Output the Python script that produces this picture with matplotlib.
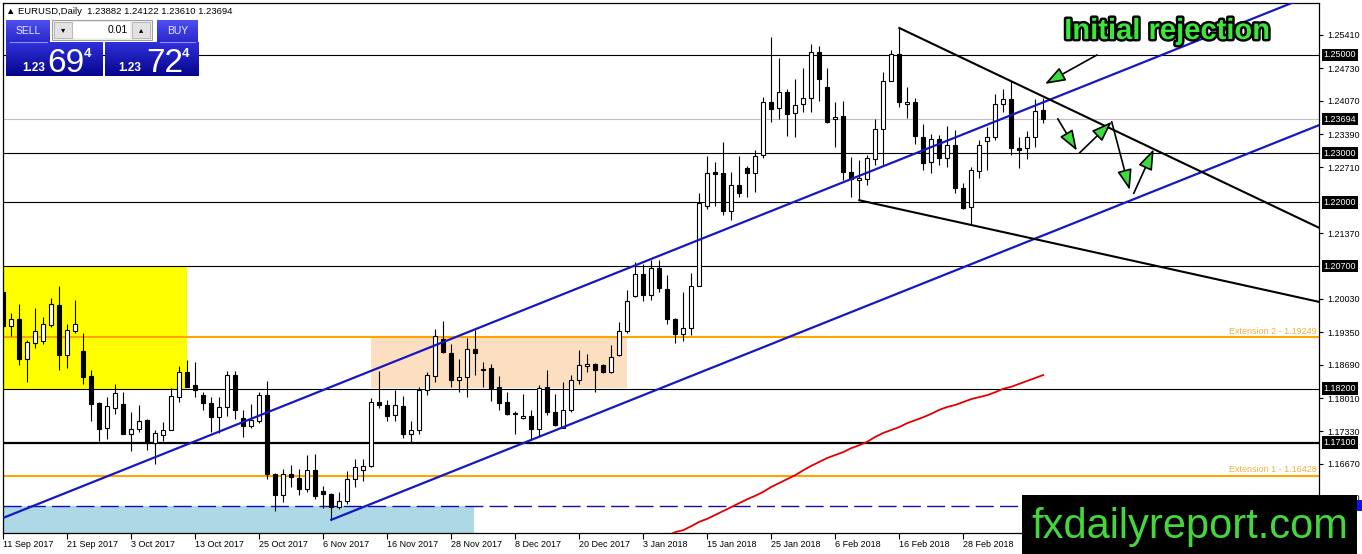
import numpy as np
import matplotlib
matplotlib.use("Agg")
import matplotlib.pyplot as plt
from matplotlib.patches import Rectangle
from matplotlib.transforms import blended_transform_factory
from matplotlib.colors import LinearSegmentedColormap
import matplotlib.patheffects as pe
from matplotlib import font_manager

W, H = 1362, 554

# ---------------- data ----------------
opens = [1.2017, 1.1948, 1.1963, 1.1881, 1.1914, 1.1917, 1.1950, 1.1990, 1.1889, 1.1937,
         1.1896, 1.1845, 1.1790, 1.1740, 1.1781, 1.1789, 1.1728, 1.1738, 1.1757, 1.1709,
         1.1726, 1.1736, 1.1803, 1.1855, 1.1827, 1.1808, 1.1791, 1.1762, 1.1782, 1.1849,
         1.1761, 1.1745, 1.1755, 1.1807, 1.1646, 1.1603, 1.1646, 1.1639, 1.1616, 1.1654,
         1.1612, 1.1605, 1.1580, 1.1592, 1.1636, 1.1654, 1.1662, 1.1794, 1.1787, 1.1767,
         1.1784, 1.1728, 1.1735, 1.1818, 1.1846, 1.1922, 1.1893, 1.1838, 1.1844, 1.1900,
         1.1861, 1.1863, 1.1823, 1.1792, 1.1771, 1.1761, 1.1765, 1.1738, 1.1823, 1.1773,
         1.1741, 1.1777, 1.1837, 1.1867, 1.1871, 1.1869, 1.1855, 1.1888, 1.1937, 1.2008,
         1.2054, 1.2012, 1.2065, 1.2024, 1.1963, 1.1932, 1.1944, 1.2029, 1.2193, 1.2261,
         1.2259, 1.2182, 1.2236, 1.2270, 1.2259, 1.2296, 1.2405, 1.2391, 1.2424, 1.2381,
         1.2400, 1.2412, 1.2507, 1.2434, 1.2369, 1.2375, 1.2262, 1.2245, 1.2248, 1.2288,
         1.2350, 1.2448, 1.2503, 1.2401, 1.2405, 1.2333, 1.2281, 1.2328, 1.2290, 1.2316,
         1.2230, 1.2190, 1.2264, 1.2324, 1.2333, 1.2401, 1.2410, 1.2311, 1.2310, 1.2332,
         1.23882]
highs = [1.2024, 1.1975, 1.1992, 1.1920, 1.1985, 1.1967, 1.2004, 1.2029, 1.1951, 1.2001,
         1.1934, 1.1859, 1.1792, 1.1803, 1.1830, 1.1813, 1.1772, 1.1786, 1.1759, 1.1736,
         1.1753, 1.1822, 1.1867, 1.1878, 1.1874, 1.1813, 1.1803, 1.1803, 1.1856, 1.1856,
         1.1776, 1.1789, 1.1814, 1.1835, 1.1648, 1.1656, 1.1665, 1.1656, 1.1684, 1.1687,
         1.1622, 1.1607, 1.1609, 1.1653, 1.1677, 1.1677, 1.1801, 1.1856, 1.1798, 1.1818,
         1.1806, 1.1755, 1.1823, 1.1854, 1.1942, 1.1959, 1.1912, 1.1880, 1.1924, 1.1939,
         1.1874, 1.1871, 1.1846, 1.1813, 1.1774, 1.1810, 1.1777, 1.1827, 1.1859, 1.1810,
         1.1833, 1.1847, 1.1899, 1.1890, 1.1872, 1.1870, 1.1909, 1.1957, 1.2022, 1.2078,
         1.2075, 1.2082, 1.2082, 1.2051, 1.1965, 1.2017, 1.2056, 1.2218, 1.2294, 1.2281,
         1.2322, 1.2262, 1.2294, 1.2273, 1.2306, 1.2415, 1.2536, 1.2493, 1.2431, 1.2452,
         1.2473, 1.2522, 1.2518, 1.2473, 1.2405, 1.2406, 1.2293, 1.2286, 1.2296, 1.2369,
         1.2466, 1.2510, 1.2555, 1.2435, 1.2413, 1.2359, 1.2340, 1.2337, 1.2355, 1.2347,
         1.2239, 1.2272, 1.2327, 1.2354, 1.2420, 1.2431, 1.2446, 1.2333, 1.2345, 1.2410,
         1.24122]
lows = [1.1944, 1.1927, 1.1869, 1.1833, 1.1903, 1.1912, 1.1946, 1.1859, 1.1862, 1.1933,
        1.1830, 1.1754, 1.1713, 1.1718, 1.1769, 1.1727, 1.1693, 1.1731, 1.1695, 1.1667,
        1.1714, 1.1735, 1.1793, 1.1823, 1.1803, 1.1776, 1.1731, 1.1730, 1.1765, 1.1759,
        1.1721, 1.1740, 1.1750, 1.1637, 1.1570, 1.1590, 1.1620, 1.1603, 1.1609, 1.1595,
        1.1578, 1.1553, 1.1575, 1.1586, 1.1619, 1.1633, 1.1660, 1.1781, 1.1754, 1.1754,
        1.1720, 1.1711, 1.1728, 1.1808, 1.1833, 1.1893, 1.1823, 1.1813, 1.1804, 1.1847,
        1.1824, 1.1796, 1.1777, 1.1767, 1.1728, 1.1759, 1.1716, 1.1724, 1.1767, 1.1745,
        1.1740, 1.1772, 1.1830, 1.1854, 1.1813, 1.1853, 1.1853, 1.1886, 1.1933, 1.2007,
        1.1999, 1.2001, 1.2017, 1.1951, 1.1913, 1.1918, 1.1929, 1.2029, 1.2186, 1.2193,
        1.2173, 1.2163, 1.2211, 1.2211, 1.2221, 1.2291, 1.2363, 1.2369, 1.2335, 1.2333,
        1.2384, 1.2384, 1.2407, 1.2362, 1.2313, 1.2245, 1.2211, 1.2204, 1.2235, 1.2276,
        1.2276, 1.2447, 1.2393, 1.2371, 1.2318, 1.2265, 1.2259, 1.2276, 1.2272, 1.2218,
        1.2187, 1.2153, 1.2250, 1.2265, 1.2327, 1.2383, 1.2297, 1.2270, 1.2289, 1.2313,
        1.23610]
closes = [1.1947, 1.1963, 1.1881, 1.1916, 1.1937, 1.1951, 1.1992, 1.1888, 1.1939, 1.1952,
          1.1844, 1.1789, 1.1739, 1.1784, 1.1812, 1.1728, 1.1738, 1.1755, 1.1709, 1.1730,
          1.1736, 1.1806, 1.1855, 1.1824, 1.1818, 1.1791, 1.1762, 1.1782, 1.1849, 1.1777,
          1.1744, 1.1756, 1.1807, 1.1646, 1.1603, 1.1646, 1.1641, 1.1616, 1.1654, 1.1601,
          1.1605, 1.1580, 1.1592, 1.1636, 1.1661, 1.1663, 1.1793, 1.1786, 1.1765, 1.1787,
          1.1728, 1.1735, 1.1818, 1.1847, 1.1927, 1.1895, 1.1838, 1.1844, 1.1900, 1.1893,
          1.1858, 1.1822, 1.1790, 1.1769, 1.1769, 1.1765, 1.1738, 1.1822, 1.1772, 1.1746,
          1.1777, 1.1837, 1.1868, 1.1871, 1.1859, 1.1855, 1.1885, 1.1937, 1.1999, 1.2054,
          1.2012, 1.2065, 1.2026, 1.1963, 1.1932, 1.1944, 1.2029, 1.2199, 1.2260, 1.2258,
          1.2182, 1.2236, 1.2218, 1.2259, 1.2295, 1.2405, 1.2390, 1.2425, 1.2380, 1.2399,
          1.2412, 1.2507, 1.2452, 1.2364, 1.2374, 1.2262, 1.2247, 1.2250, 1.2290, 1.2350,
          1.2448, 1.2502, 1.2405, 1.2405, 1.2335, 1.2280, 1.2328, 1.2290, 1.2316, 1.2229,
          1.2188, 1.2265, 1.2316, 1.2332, 1.2401, 1.2410, 1.2310, 1.2306, 1.2332, 1.2386,
          1.23694]

date_labels = ["11 Sep 2017", "21 Sep 2017", "3 Oct 2017", "13 Oct 2017", "25 Oct 2017",
               "6 Nov 2017", "16 Nov 2017", "28 Nov 2017", "8 Dec 2017", "20 Dec 2017",
               "3 Jan 2018", "15 Jan 2018", "25 Jan 2018", "6 Feb 2018", "16 Feb 2018",
               "28 Feb 2018"]
bars_per_label = 8

price_ticks = [1.25410, 1.24730, 1.24070, 1.23390, 1.22710, 1.21370, 1.20030,
               1.19350, 1.18690, 1.18010, 1.17330, 1.16670, 1.15990]

thin_levels = [1.25000, 1.23000, 1.22000, 1.20700, 1.18200]
thick_levels = [1.17100]
boxed_levels = [1.25000, 1.23000, 1.22000, 1.20700, 1.18200, 1.17100]
bid_price = 1.23694
dash_level = 1.15811

ext_levels = [1.19249, 1.16428]
ext_labels = ["Extension 2 - 1.19249", "Extension 1 - 1.16428"]

ma_first_bar = 83
ma_values = [1.1520, 1.1528, 1.1532, 1.1540, 1.1549, 1.1555, 1.1563, 1.1571, 1.1579, 1.1587,
             1.1595, 1.1602, 1.1610, 1.1620, 1.1628, 1.1636, 1.1644, 1.1654, 1.1663, 1.1671,
             1.1679, 1.1685, 1.1691, 1.1699, 1.1705, 1.1712, 1.1722, 1.1730, 1.1736, 1.1742,
             1.1750, 1.1756, 1.1762, 1.1769, 1.1777, 1.1783, 1.1787, 1.1793, 1.1799, 1.1803,
             1.1807, 1.1813, 1.1820, 1.1824, 1.1830, 1.1836, 1.1842, 1.1848]

# trend lines: (bar, price) anchors
chan_up_bars, chan_up_prices = [0, 160], [1.1557, 1.2599]
chan_lo_bars, chan_lo_prices = [41, 164.46], [1.1553, 1.2357]
res_bars, res_prices = [112, 164.46], [1.2555, 1.2148]
sup_bars, sup_prices = [107, 164.46], [1.2204, 1.1997]

# zones: bar range and price range
yellow_bars, yellow_prices = [-1, 22.96], [1.1820, 1.2070]
peach_bars, peach_prices = [45.96, 77.96], [1.1822, 1.19249]
blue_bars, blue_prices = [-1, 58.84], [1.1500, 1.15811]

# projected path arrows
arrow_x0 = [136.7, 131.8, 134.5, 138.55, 141.3]
arrow_y0 = [1.2500, 1.2370, 1.2300, 1.2364, 1.2218]
arrow_x1 = [130.2, 134.2, 138.55, 140.8, 143.8]
arrow_y1 = [1.2441, 1.2305, 1.2364, 1.2225, 1.2308]

header = "\u25b2 EURUSD,Daily  1.23882 1.24122 1.23610 1.23694"
sell_big, buy_big = "69", "72"

# ---------------- fonts ----------------
names = {f.name for f in font_manager.fontManager.ttflist}
NARROW = "Liberation Sans Narrow" in names
plt.rcParams["font.family"] = ["Liberation Sans", "DejaVu Sans"]

fig = plt.figure(figsize=(W / 100, H / 100), dpi=100)
fig.patch.set_facecolor("white")
ax = fig.add_axes([3 / W, 1 - 533 / H, (1319 - 3) / W, (533 - 3) / H])
ax.set_xlim(-0.04, 164.46)
ax.set_ylim(1.15261, 1.26059)
ax.set_facecolor("white")
for s in ax.spines.values():
    s.set_color("black")
    s.set_linewidth(0.9)

# zones
ax.add_patch(Rectangle((yellow_bars[0], yellow_prices[0]), yellow_bars[1] - yellow_bars[0],
                       yellow_prices[1] - yellow_prices[0], fc="#ffff00", ec="none", zorder=0.5))
ax.add_patch(Rectangle((peach_bars[0], peach_prices[0]), peach_bars[1] - peach_bars[0],
                       peach_prices[1] - peach_prices[0], fc="#fbdfc0", ec="none", zorder=0.5))
ax.add_patch(Rectangle((blue_bars[0], blue_prices[0]), blue_bars[1] - blue_bars[0],
                       blue_prices[1] - blue_prices[0], fc="#add8e6", ec="none", zorder=0.5))

# horizontal levels
for lv in thin_levels:
    ax.axhline(lv, color="black", lw=0.8, zorder=2)
for lv in thick_levels:
    ax.axhline(lv, color="black", lw=1.6, zorder=2)
ax.axhline(bid_price, color="#c0c0c0", lw=0.8, zorder=2)
ax.axhline(dash_level, color="#1010a8", lw=1.0, dashes=(13, 4.5), zorder=2)
for lv, lab in zip(ext_levels, ext_labels):
    ax.axhline(lv, color="#ffa500", lw=1.5, zorder=2)
    ax.text(164.2, lv + 0.0003, lab, ha="right", va="bottom", color="#f0b040",
            fontsize=6.5, zorder=2)

# candles
x = np.arange(len(opens))
o, h, l, c = map(np.array, (opens, highs, lows, closes))
up = c >= o
ax.vlines(x, l, h, color="black", lw=0.8, zorder=3)
bottom = np.minimum(o, c)
height = np.maximum(np.abs(c - o), 0.00003)
ax.bar(x, height, bottom=bottom, width=0.5, color=np.where(up, "white", "black"),
       edgecolor="black", linewidth=0.8, zorder=4)

# moving average
ma_x = np.arange(ma_first_bar, ma_first_bar + len(ma_values))
ax.plot(ma_x, ma_values, color="#e00000", lw=1.3, zorder=5)

# channel lines (extended)
def extend(bx, py, x0=-2, x1=170):
    s = (py[1] - py[0]) / (bx[1] - bx[0])
    return [x0, x1], [py[0] + s * (x0 - bx[0]), py[0] + s * (x1 - bx[0])]

ex, ey = extend(chan_up_bars, chan_up_prices)
ax.plot(ex, ey, color="#1818c0", lw=1.6, zorder=6)
ax.plot(chan_lo_bars, chan_lo_prices, color="#1818c0", lw=1.6, zorder=6)
ax.plot(res_bars, res_prices, color="black", lw=1.5, zorder=6)
ax.plot(sup_bars, sup_prices, color="black", lw=1.5, zorder=6)

# arrows
for x0, y0, x1, y1 in zip(arrow_x0, arrow_y0, arrow_x1, arrow_y1):
    ax.annotate("", xy=(x1, y1), xytext=(x0, y0),
                arrowprops=dict(arrowstyle="-|>,head_length=1.25,head_width=0.45",
                                fc="#3cdc3c", ec="black", lw=1.2,
                                shrinkA=0, shrinkB=0), zorder=7)

# axes ticks
ax.set_xticks(np.arange(len(date_labels)) * bars_per_label)
ax.set_xticklabels(date_labels)
for t in ax.get_xticklabels():
    t.set_horizontalalignment("left")
ax.yaxis.tick_right()
ax.set_yticks(price_ticks)
ax.set_yticklabels([f"{t:.5f}" for t in price_ticks])
ax.tick_params(axis="x", length=4, width=0.8, pad=1, labelsize=6.5)
ax.tick_params(axis="y", length=3, width=0.8, pad=3, labelsize=6.5)

# right-side price boxes
tr = blended_transform_factory(ax.transAxes, ax.transData)
xb = 1.0 + 4.5 / 1316
for lv in boxed_levels + [bid_price]:
    ax.text(xb, lv, f"{lv:.5f}", transform=tr, ha="left", va="center", color="white",
            fontsize=6.5, clip_on=False, zorder=8,
            bbox=dict(boxstyle="square,pad=0.2", fc="black", ec="none"))

# ---------------- figure-level overlays ----------------
def fx(px):
    return px / W

def fy(py):
    return 1 - py / H

fig.text(fx(6), fy(12), header, fontsize=6.8, va="center", ha="left",
         family=["Liberation Sans", "DejaVu Sans"], color="black")

def grad_box(x0, y0, x1, y1, ctop, cbot):
    a = fig.add_axes([fx(x0), fy(y1), (x1 - x0) / W, (y1 - y0) / H])
    cmap = LinearSegmentedColormap.from_list("g", [ctop, cbot])
    a.imshow(np.linspace(0, 1, 64).reshape(-1, 1), aspect="auto", cmap=cmap,
             origin="upper", extent=[0, 1, 0, 1])
    a.set_axis_off()
    return a

grad_box(6, 42, 102, 76, "#3030dc", "#05058c")
grad_box(105, 42, 198, 76, "#3030dc", "#05058c")
grad_box(6, 20, 50, 42, "#5050f0", "#2828cc")
grad_box(157, 20, 198, 42, "#5050f0", "#2828cc")

# separators under SELL / BUY
fig.add_artist(plt.Line2D([fx(10), fx(47)], [fy(42), fy(42)], color="#9090ff", lw=0.8))
fig.add_artist(plt.Line2D([fx(160), fx(195)], [fy(42), fy(42)], color="#9090ff", lw=0.8))

# lot size box
fig.add_artist(Rectangle((fx(52), fy(40)), 100 / W, 20 / H, transform=fig.transFigure,
                         fc="#f0f0f0", ec="#a0a0a0", lw=0.8))
fig.add_artist(Rectangle((fx(54), fy(38)), 18 / W, 16 / H, transform=fig.transFigure,
                         fc="#e2e2e2", ec="#b0b0b0", lw=0.6))
fig.add_artist(Rectangle((fx(73), fy(38)), 57 / W, 16 / H, transform=fig.transFigure,
                         fc="white", ec="none"))
fig.add_artist(Rectangle((fx(132), fy(38)), 18 / W, 16 / H, transform=fig.transFigure,
                         fc="#e2e2e2", ec="#b0b0b0", lw=0.6))
fig.text(fx(63), fy(30), "\u25be", fontsize=6, ha="center", va="center",
         family=["DejaVu Sans"], color="black")
fig.text(fx(141), fy(30), "\u25b4", fontsize=6, ha="center", va="center",
         family=["DejaVu Sans"], color="black")
fig.text(fx(128), fy(30), "0.01", fontsize=7.5, ha="right", va="center", color="black")

fig.text(fx(28), fy(31), "SELL", fontsize=7.5, ha="center", va="center", color="#e8ecff")
fig.text(fx(178), fy(31), "BUY", fontsize=7.5, ha="center", va="center", color="#e8ecff")

for x_small, x_big, x_sup, big in [(22, 47, 84, sell_big), (118, 146, 182, buy_big)]:
    fig.text(fx(x_small), fy(71), "1.23", fontsize=8.5, weight="bold", ha="left",
             va="baseline", color="white")
    fig.text(fx(x_big), fy(71.5), big, fontsize=24, ha="left", va="baseline", color="white")
    fig.text(fx(x_sup), fy(57), "4", fontsize=9.5, weight="bold", ha="left",
             va="baseline", color="white")

# title annotation
tfam = ["Liberation Sans Narrow", "Liberation Sans"] if NARROW else ["Liberation Sans"]
fig.text(fx(1167), fy(39), "Initial rejection", fontsize=25 if NARROW else 21,
         weight="bold", family=tfam, ha="center", va="baseline", color="#3ce63c",
         path_effects=[pe.withStroke(linewidth=3.5, foreground="black")], zorder=10)

# blue price tag sliver of the dashed level (right edge)
fig.add_artist(Rectangle((fx(1352), fy(511)), 10 / W, 11 / H, transform=fig.transFigure,
                         fc="#1010ff", ec="none", zorder=8))

# watermark
fig.add_artist(Rectangle((fx(1022), 0), (1357 - 1022) / W, 59 / H, transform=fig.transFigure,
                         fc="black", ec="none", zorder=9))
fig.text(fx(1190), fy(538), "fxdailyreport.com", fontsize=36 if NARROW else 30,
         family=tfam, ha="center", va="baseline", color="#44d63c", zorder=10)

fig.savefig("out.png", dpi=100)
